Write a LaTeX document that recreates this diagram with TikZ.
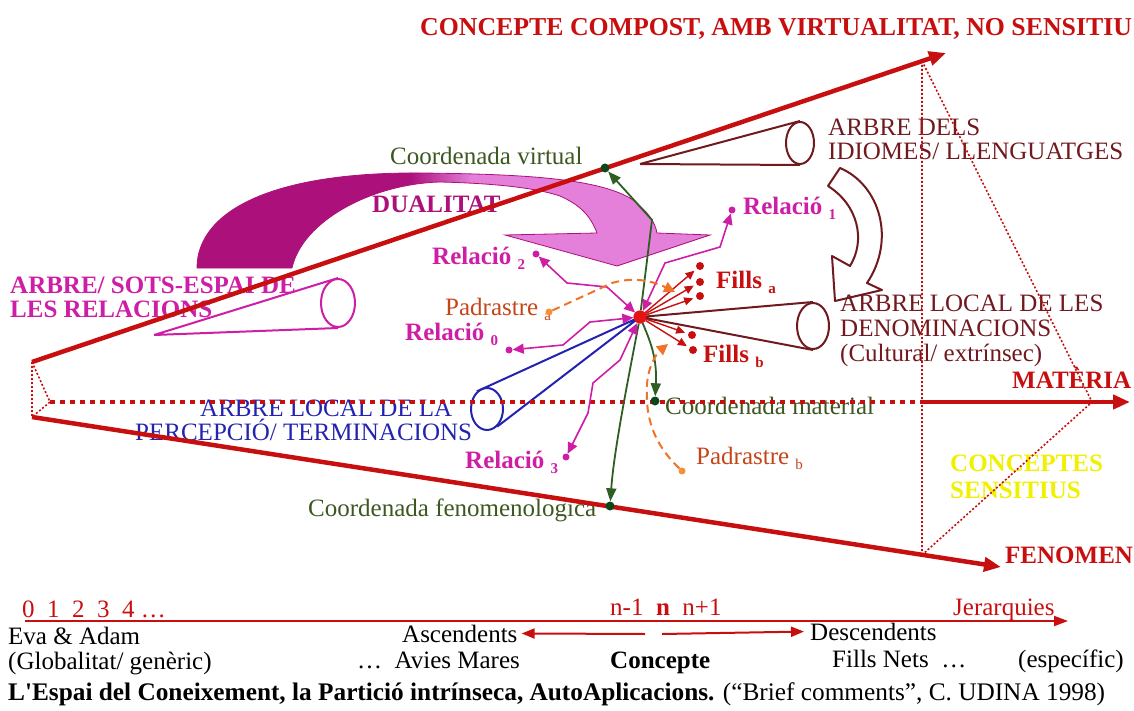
\documentclass[tikz,border=0pt]{standalone}
\usepackage{fontspec}
\setmainfont{Liberation Serif}
\newfontfamily\plainserif[Ligatures=ResetAll]{Liberation Serif}
\usetikzlibrary{arrows.meta,shapes.geometric}
\definecolor{redD}{RGB}{200,15,15}
\definecolor{redC}{RGB}{228,20,20}
\definecolor{maroon}{RGB}{112,25,30}
\definecolor{magT}{RGB}{205,30,165}
\definecolor{magD}{RGB}{172,16,122}
\definecolor{magL}{RGB}{228,128,218}
\definecolor{blueT}{RGB}{35,35,175}
\definecolor{greenT}{RGB}{60,88,32}
\definecolor{greenA}{RGB}{45,95,35}
\definecolor{greenD}{RGB}{12,70,25}
\definecolor{orT}{RGB}{195,70,25}
\definecolor{orL}{RGB}{240,115,40}
\definecolor{orDot}{RGB}{245,145,50}
\definecolor{yel}{RGB}{240,240,0}
\newcommand\fsz{\fontsize{25}{28}\selectfont}
\newcommand\sbs[1]{\raisebox{-5pt}{\fontsize{15}{16}\selectfont #1}}
\begin{document}
\begin{tikzpicture}[x=1pt,y=-1pt,
  lbl/.style={inner sep=0pt, anchor=base west, font=\fsz},
  blbl/.style={inner sep=0pt, anchor=base west, font=\fsz\bfseries},
  dotn/.style={circle, inner sep=0pt, minimum size=7pt},
  ax/.style={draw=redD, line width=4.5pt, -{Triangle[length=17pt,width=14pt]}},
  relarr/.style={draw=magT, line width=1.6pt, {Triangle[length=11pt,width=10pt]}-{Triangle[length=11pt,width=10pt]}},
  fillarr/.style={draw=redD, line width=1.4pt, shorten >=3pt, -{Triangle[length=9pt,width=8pt]}},
  grarr/.style={draw=greenA, line width=1.8pt, -{Triangle[length=13pt,width=10pt]}},
  padarr/.style={draw=orL, line width=2pt, dash pattern=on 8pt off 5pt, -{Triangle[length=11pt,width=11pt]}},
  conem/.style={draw=maroon, line width=2pt},
  coneel/.style={ellipse, inner sep=0pt, line width=2pt, fill=white},
  smalldot/.style={line width=1.6pt, dash pattern=on 2pt off 2pt}
]
\useasboundingbox (0,0) rectangle (1134,711);

% ---------- DUALITAT arrow ----------
\begin{scope}
\clip (197,268) .. controls (197,212) and (270,172) .. (420,173) .. controls (520,174) and (600,178) .. (633,200) .. controls (648,212) and (655,222) .. (657,233) -- (710,235) -- (617,266) -- (505,235) -- (597,233) .. controls (590,215) and (580,205) .. (560,196) .. controls (530,186) and (480,183) .. (440,182) .. controls (370,184) and (302,222) .. (292,268) -- cycle;
\fill[magD] (190,160) rectangle (412,280);
\shade[left color=magD, right color=magL] (410,160) rectangle (472,280);
\fill[magL] (470,160) rectangle (720,280);
\end{scope}
\draw[magD, line width=0.8pt] (197,268) .. controls (197,212) and (270,172) .. (420,173) .. controls (520,174) and (600,178) .. (633,200) .. controls (648,212) and (655,222) .. (657,233) -- (710,235) -- (617,266) -- (505,235) -- (597,233) .. controls (590,215) and (580,205) .. (560,196) .. controls (530,186) and (480,183) .. (440,182) .. controls (370,184) and (302,222) .. (292,268) -- cycle;

% ---------- hollow curved arrow (maroon) ----------
\draw[maroon, line width=2pt, fill=white, line join=round] (828,186) .. controls (858,205) and (866,240) .. (850,266) -- (832,256) -- (835,301) -- (882,290) -- (867,283) .. controls (896,240) and (880,185) .. (840,168) -- cycle;

% ---------- texts ----------
\node[blbl, text=redD, font=\fontsize{25.8}{28}\selectfont\bfseries] (tTitle) at (420,36) {CONCEPTE COMPOST, AMB VIRTUALITAT, NO SENSITIU};
\node[lbl, text=greenT] (tVirt) at (390,165) {Coordenada virtual};
\node[lbl, text=maroon] (tIdi1) at (828,136) {ARBRE DELS};
\node[lbl, text=maroon] (tIdi2) at (828,160) {IDIOMES/ LLENGUATGES};
\node[blbl, text=magD] (tDual) at (372,213) {DUALITAT};
\node[blbl, text=magT] (tR1) at (743,215) {Relació \sbs{1}};
\node[blbl, text=magT] (tR2) at (432,265) {Relació \sbs{2}};
\node[blbl, text=magT] (tRel1) at (10,293) {ARBRE/ SOTS-ESPAI DE};
\node[blbl, text=magT] (tRel2) at (10,317) {LES RELACIONS};
\node[lbl, text=orT] (tPa) at (445,315) {Padrastre \sbs{a}};
\node[blbl, text=magT] (tR0) at (405,340) {Relació \sbs{0}};
\node[blbl, text=redD] (tFa) at (716,288) {Fills \sbs{a}};
\node[lbl, text=maroon] (tDen1) at (840,311) {ARBRE LOCAL DE LES};
\node[lbl, text=maroon] (tDen2) at (840,336) {DENOMINACIONS};
\node[lbl, text=maroon] (tDen3) at (840,361) {(Cultural/ extrínsec)};
\node[blbl, text=redD] (tFb) at (703,362) {Fills \sbs{b}};
\node[blbl, text=redD] (tMat) at (1012,388) {MATÈRIA};
\node[lbl, text=blueT] (tPer1) at (200,416) {ARBRE LOCAL DE LA};
\node[lbl, text=blueT] (tPer2) at (135,440) {PERCEPCIÓ/ TERMINACIONS};
\node[lbl, text=greenT] (tMatC) at (665,414) {Coordenada material};
\node[lbl, text=orT] (tPb) at (696,464) {Padrastre \sbs{b}};
\node[blbl, text=magT] (tR3) at (465,468) {Relació \sbs{3}};
\node[blbl, text=yel] (tCs1) at (950,471) {CONCEPTES};
\node[blbl, text=yel] (tCs2) at (950,498) {SENSITIUS};
\node[lbl, text=greenT] (tFen) at (308,516) {Coordenada fenomenologica};
\node[blbl, text=redD] (tFenom) at (1005,563) {FENOMEN};

\node[lbl, text=redD] (tNums) at (22,617) {0~~1~~2~~3~~4~…};
\node[lbl, text=redD] (tN) at (610,615) {n-1~~\textbf{n}~~n+1};
\node[lbl, text=redD] (tJer) at (953,615) {Jerarquies};
\node[lbl] (tEva) at (8,644) {Eva \& Adam};
\node[lbl] (tGlob) at (8,669) {(Globalitat/ genèric)};
\node[lbl] (tAsc) at (402,642) {Ascendents};
\node[lbl] (tDesc) at (810,640) {Descendents};
\node[lbl] (tAvies) at (357,668) {…~~Avies Mares};
\node[blbl] (tConc) at (610,668) {Concepte};
\node[lbl] (tNets) at (832,667) {Fills Nets~~…};
\node[lbl] (tEsp) at (1018,667) {(específic)};
\node[lbl, font=\fontsize{25.3}{28}\selectfont] (tCap) at (8,700) {\textbf{L{\plainserif '}Espai del Coneixement, la Partició intrínseca, AutoAplicacions.} (“Brief comments”, C. UDINA 1998)};

% ---------- coordinates ----------
\coordinate (apT) at (32,362);
\coordinate (apB) at (32,417);
\coordinate (apM) at (50,402);
\coordinate (tipT) at (946,53);
\coordinate (tipB) at (1001,567);
\coordinate (tipM) at (1130,402);
\coordinate (trT) at (922,61);
\coordinate (trB) at (922,555);
\coordinate (trM) at (1092,402);
\coordinate (trX) at (922,402);

% ---------- cones ----------
\node[coneel, draw=maroon, minimum width=28pt, minimum height=42pt] (eIdi) at (800,143) {};
\coordinate (tipIdi) at (640,164);
\draw[conem] (tipIdi) -- (eIdi.north) (tipIdi) -- (eIdi.south);

\node[coneel, draw=magT, minimum width=34pt, minimum height=48pt] (eRel) at (338,303) {};
\coordinate (tipRel) at (154,335);
\draw[draw=magT, line width=2pt] (tipRel) -- (eRel.north) (tipRel) -- (eRel.south);

\node[dotn, fill=redC, minimum size=13pt] (C) at (640,317) {};

\node[coneel, draw=maroon, minimum width=32pt, minimum height=46pt] (eDen) at (813,326) {};
\draw[conem] (C.center) -- (eDen.north) (C.center) -- (eDen.south);

\node[coneel, draw=blueT, minimum width=32pt, minimum height=42pt] (ePer) at (487,409) {};
\draw[draw=blueT, line width=2pt] (C.center) -- (ePer.120) (C.center) -- (ePer.300);

% ---------- main axes ----------
\draw[ax] (apT) -- (tipT);
\draw[ax] (apB) -- (tipB);
\draw[draw=redD, line width=4.5pt, dash pattern=on 5pt off 5pt] (apM) -- (trX);
\draw[ax] (trX) -- (tipM);
\draw[draw=redD, smalldot] (apT) -- (apB) (apT) -- (apM) -- (apB);
\draw[draw=redD, smalldot] (trT) -- (trB) (trT) -- (trM) -- (trB);

% ---------- dots ----------
\node[dotn, fill=greenD, minimum size=9pt] (dV) at (605,168) {};
\node[dotn, fill=greenD, minimum size=9pt] (dF) at (610,506) {};
\node[dotn, fill=greenD, minimum size=9pt] (dM) at (655,401) {};
\node[dotn, fill=magT] (r1) at (732,210) {};
\node[dotn, fill=magT] (r2) at (536,254) {};
\node[dotn, fill=magT] (r0) at (509,350) {};
\node[dotn, fill=magT] (r3) at (566,457) {};
\node[dotn, fill=orDot] (pa) at (549,312) {};
\node[dotn, fill=orDot] (pb) at (682,471) {};
\coordinate (paE) at (675,292);
\coordinate (pbE) at (668,344);
\node[dotn, fill=redD, minimum size=8pt] (fa1) at (700,266) {};
\node[dotn, fill=redD, minimum size=8pt] (fa2) at (700,282) {};
\node[dotn, fill=redD, minimum size=8pt] (fa3) at (700,296) {};
\node[dotn, fill=redD, minimum size=8pt] (fb1) at (692,335) {};
\node[dotn, fill=redD, minimum size=8pt] (fb2) at (693,350) {};

% ---------- arrows from the concept ----------
\draw[grarr] (C) -- (652,220) -- (dV);
\draw[grarr] (C) .. controls (628,380) and (614,450) .. (dF);
\draw[grarr] (C) .. controls (652,345) and (657,360) .. (dM);

\draw[relarr] (r1) -- (720,247) -- (665,263) -- (C);
\draw[relarr] (r2) -- (567,283) -- (607,287) -- (C);
\draw[relarr] (r0) -- (563,345) -- (590,322) -- (C);
\draw[relarr] (r3) -- (588,413) -- (593,383) -- (620,360) -- (C);

\draw[fillarr] (C) -- (fa1);
\draw[fillarr] (C) -- (fa2);
\draw[fillarr] (C) -- (fa3);
\draw[fillarr] (C) -- (fb1);
\draw[fillarr] (C) -- (fb2);

\draw[padarr] (pa) -- (612,283) .. controls (635,276) and (655,282) .. (paE);
\draw[padarr] (pb) .. controls (655,445) and (645,420) .. (647,385) .. controls (648,365) and (658,352) .. (pbE);

\node[dotn, fill=redC, minimum size=13pt] (C2) at (C) {};

% ---------- bottom hierarchy ----------
\coordinate (hjL) at (25,621);
\coordinate (hjR) at (1068,621);
\draw[draw=redD, line width=2pt, -{Triangle[length=14pt,width=10pt]}] (hjL) -- (hjR);
\coordinate (asA) at (645,634);
\coordinate (dsA) at (662,634);
\draw[draw=redD, line width=2pt, shorten >=4pt, -{Triangle[length=13pt,width=10pt]}] (asA) -- (tAsc.east);
\draw[draw=redD, line width=2pt, shorten >=6pt, -{Triangle[length=13pt,width=10pt]}] (dsA) -- (tDesc.west);
\end{tikzpicture}
\end{document}
